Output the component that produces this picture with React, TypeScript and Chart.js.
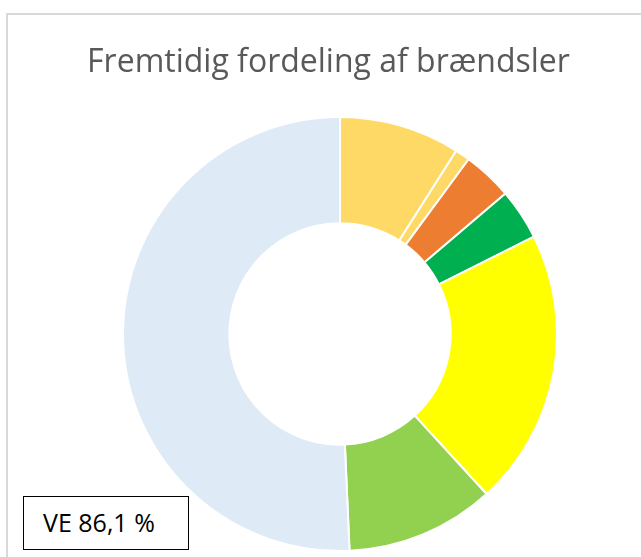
import React, { useEffect, useRef } from "react";
import { Chart, registerables } from "chart.js";

Chart.register(...registerables);

const TITLE = "Fremtidig fordeling af brændsler";
const LABEL_BOX = "VE 86,1 %";
const categories = ["Træflis", "Træpiller", "Olie", "Biogas", "Halm", "Solvarme", "Overskudsvarme"];
const shares = [9.0, 1.1, 3.7, 3.8, 20.6, 11.1, 50.7];
const colors = ["#FFD966", "#FFD966", "#ED7D31", "#00B050", "#FFFF00", "#92D050", "#DEEBF7"];

export default function App() {
  const ref = useRef<HTMLCanvasElement | null>(null);
  useEffect(() => {
    document.body.style.margin = "0";
    const ctx = ref.current!;
    const chart = new Chart(ctx, {
      type: "doughnut",
      data: {
        labels: categories,
        datasets: [
          {
            data: shares,
            backgroundColor: colors,
            borderColor: "#FFFFFF",
            borderWidth: 2,
          },
        ],
      },
      options: {
        animation: false,
        responsive: false,
        cutout: "51%",
        layout: { padding: { left: 122, right: 83, top: 116, bottom: 5 } },
        plugins: {
          legend: { display: false },
          title: { display: false },
          tooltip: { enabled: false },
        },
      },
    });
    return () => chart.destroy();
  }, []);

  return (
    <div style={{ position: "fixed", left: 0, top: 0, width: 641, height: 557, overflow: "hidden", background: "#fff" }}>
      <div
        style={{
          position: "absolute",
          left: 6,
          top: 13,
          width: 700,
          height: 600,
          border: "2px solid #D9D9D9",
          boxSizing: "border-box",
        }}
      />
      <canvas ref={ref} width={641} height={557} style={{ position: "absolute", left: 0, top: 0, width: 641, height: 557 }} />
      <div
        style={{
          position: "absolute",
          left: 0,
          width: 657,
          top: 37,
          textAlign: "center",
          fontFamily: "'Open Sans', sans-serif",
          fontSize: 32,
          color: "#595959",
          whiteSpace: "nowrap",
          lineHeight: "46px",
        }}
      >
        {TITLE}
      </div>
      <div
        style={{
          position: "absolute",
          left: 23,
          top: 496,
          width: 166,
          height: 54,
          boxSizing: "border-box",
          border: "1.5px solid #000",
          background: "#fff",
          fontFamily: "'Open Sans', sans-serif",
          fontSize: 25,
          color: "#000",
          display: "flex",
          alignItems: "center",
          paddingLeft: 19,
          paddingBottom: 2,
          whiteSpace: "nowrap",
        }}
      >
        {LABEL_BOX}
      </div>
    </div>
  );
}
